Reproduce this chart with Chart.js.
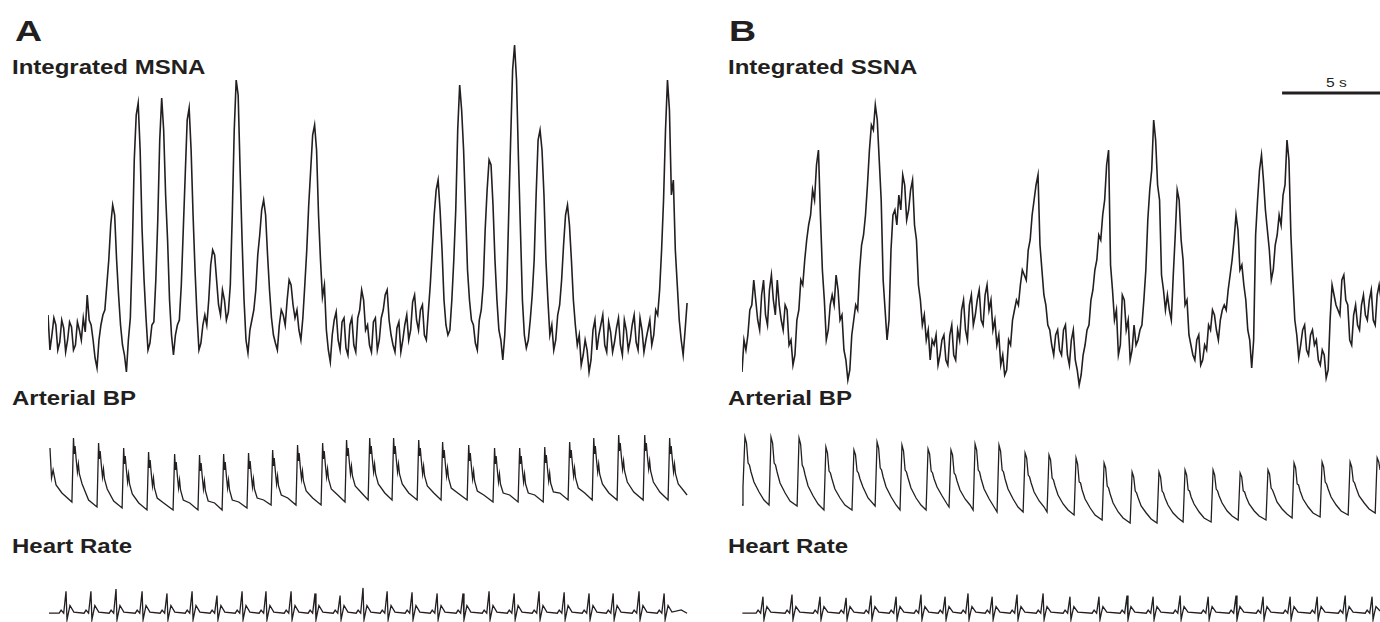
<!DOCTYPE html>
<html>
<head>
<meta charset="utf-8">
<script src="https://cdn.jsdelivr.net/npm/chart.js@4.4.1/dist/chart.umd.min.js"></script>
<style>
  html, body { margin: 0; padding: 0; background: #fff; }
  body { width: 1380px; height: 622px; position: relative; overflow: hidden;
         font-family: "Liberation Sans", Arial, Helvetica, sans-serif; color: #231f20; }
  .lbl { position: absolute; font-weight: bold; font-size: 20px; line-height: 20px; white-space: nowrap;
         transform-origin: left top; transform: scaleX(1.2); }
  .panel { position: absolute; font-weight: bold; font-size: 30px; line-height: 30px;
           transform-origin: left top; transform: scaleX(1.25); }
  .bar { position: absolute; font-size: 12px; line-height: 12px; transform-origin: left top; transform: scaleX(1.3); }
  canvas { position: absolute; }
</style>
</head>
<body>
<div class="panel" style="left:15px; top:16px;">A</div>
<div class="panel" style="left:729px; top:16px;">B</div>
<div class="lbl" style="left:12px; top:57px;">Integrated MSNA</div>
<div class="lbl" style="left:728px; top:57px;">Integrated SSNA</div>
<div class="lbl" style="left:12px; top:388px;">Arterial BP</div>
<div class="lbl" style="left:728px; top:388px;">Arterial BP</div>
<div class="lbl" style="left:12px; top:536px;">Heart Rate</div>
<div class="lbl" style="left:728px; top:536px;">Heart Rate</div>
<div class="bar" style="left:1326px; top:77px;">5 s</div>

<canvas id="msna" width="643" height="345" style="left:48px; top:35px;"></canvas>
<canvas id="ssna" width="643" height="320" style="left:742px; top:80px;"></canvas>
<canvas id="bpA" width="643" height="90" style="left:48px; top:425px;"></canvas>
<canvas id="bpB" width="643" height="105" style="left:742px; top:425px;"></canvas>
<canvas id="ecgA" width="643" height="44" style="left:48px; top:578px;"></canvas>
<canvas id="ecgB" width="643" height="44" style="left:742px; top:578px;"></canvas>

<script>
// sampling interval of the integrated nerve traces (s)
const snaStep = 0.1;

// integrated MSNA, panel A (a.u.)
const msnaA = [
  65,30,45,62,55,30,38,60,52,28,40,58,53,30,35,58,50,40,62,48,
  85,60,55,40,22,12,40,55,65,70,95,120,155,175,165,120,85,55,35,25,
  8,40,62,130,220,265,277,230,150,100,62,30,37,55,58,100,160,240,282,250,
  185,140,80,45,25,45,55,60,95,150,205,260,272,230,165,110,65,30,37,55,
  65,55,80,115,130,125,100,75,65,90,80,60,68,95,165,250,300,285,210,140,
  80,40,27,50,60,70,90,125,145,170,180,165,125,90,62,45,37,30,55,70,
  65,55,80,100,95,75,62,70,50,40,62,95,130,175,210,245,255,230,165,120,
  83,95,50,30,18,45,60,68,40,30,58,62,32,25,55,62,35,28,62,70,
  90,80,50,55,35,28,58,62,30,40,62,70,85,90,60,45,35,28,52,58,
  28,40,55,65,40,50,78,85,60,50,70,75,45,40,68,95,130,165,190,200,
  170,130,80,55,45,50,80,120,170,250,295,270,230,170,110,80,60,55,37,30,
  60,70,95,150,190,220,215,175,120,80,50,40,20,45,90,165,240,310,335,300,
  220,150,80,45,32,40,60,85,120,185,240,250,230,185,120,80,45,55,30,40,
  65,75,100,135,165,175,155,120,80,55,35,45,15,25,40,30,8,20,50,60,
  30,45,55,65,35,28,58,48,28,38,52,62,35,25,60,50,30,40,55,65,
  38,30,62,50,28,40,50,60,35,45,70,65,90,130,180,250,300,270,185,200,
  130,95,60,40,25,50,77
];

// integrated SSNA, panel B (a.u.)
const ssnaB = [
  28,60,50,65,90,95,120,100,80,70,105,120,85,75,110,125,100,85,120,95,
  80,70,95,90,55,60,35,45,80,90,120,115,140,160,175,185,210,200,235,250,
  185,130,100,60,70,95,105,95,125,110,80,85,50,40,20,30,65,80,95,90,
  130,155,165,185,215,250,275,270,295,280,240,200,120,90,60,80,150,185,190,175,
  205,190,225,215,180,190,210,220,175,160,115,100,75,85,60,70,40,60,55,65,
  35,45,60,65,40,35,65,75,45,40,70,60,90,100,70,60,95,105,75,85,
  100,110,80,75,105,115,90,100,70,80,55,65,35,45,25,30,60,55,80,90,
  100,95,115,130,125,120,150,160,185,200,215,225,155,130,105,95,75,70,55,45,
  65,70,50,45,70,75,45,35,60,70,40,30,15,25,45,55,70,75,100,110,
  130,140,165,160,185,200,235,250,135,110,80,90,45,55,105,100,70,80,40,50,
  75,55,60,70,75,100,130,180,210,230,280,260,215,200,125,110,90,105,90,80,
  125,165,210,200,160,140,95,100,65,55,45,40,60,65,35,40,55,50,75,70,
  90,85,70,60,80,90,95,90,110,125,140,160,185,170,130,135,115,100,70,60,
  32,60,165,200,230,245,220,190,170,150,120,130,155,165,185,175,205,215,260,240,
  165,120,80,65,42,55,70,75,50,45,65,70,55,60,40,35,50,45,22,30,
  80,115,105,95,90,85,120,125,100,95,60,55,85,95,75,70,95,105,85,80,
  100,110,80,75,105,115,100
];

// arterial pressure, panel A: [time s, mmHg]
const bpA = [
  [0.10,117],[0.18,87],[0.26,95],[0.41,80],[0.71,72],
  [1.22,63],[1.30,127],[1.34,111],[1.38,119],[1.44,105],[1.50,93],[1.55,101],[1.60,91],[1.74,81],[2.07,65],
  [2.50,58],[2.58,122],[2.62,106],[2.66,114],[2.72,100],[2.78,88],[2.83,96],[2.88,86],[3.02,76],[3.35,64],
  [3.78,57],[3.86,117],[3.90,101],[3.94,109],[4.00,95],[4.06,83],[4.11,91],[4.16,81],[4.30,71],[4.63,62],
  [5.05,55],[5.13,113],[5.17,97],[5.21,105],[5.27,91],[5.33,79],[5.38,87],[5.43,77],[5.57,67],[5.90,62],
  [6.38,55],[6.46,111],[6.50,95],[6.54,103],[6.60,89],[6.66,77],[6.71,85],[6.76,75],[6.90,65],[7.23,62],
  [7.65,55],[7.73,110],[7.77,94],[7.81,102],[7.87,88],[7.93,76],[7.98,84],[8.03,74],[8.17,64],[8.50,62],
  [8.88,55],[8.96,111],[9.00,95],[9.04,103],[9.10,89],[9.16,77],[9.21,85],[9.26,75],[9.40,65],[9.73,63],
  [10.15,57],[10.23,112],[10.27,96],[10.31,104],[10.37,90],[10.43,78],[10.48,86],[10.53,76],[10.67,67],[11.00,65],
  [11.38,60],[11.46,115],[11.50,99],[11.54,107],[11.60,93],[11.66,81],[11.71,89],[11.76,79],[11.90,70],[12.23,67],
  [12.65,60],[12.73,120],[12.77,104],[12.81,112],[12.87,98],[12.93,86],[12.98,94],[13.03,84],[13.17,74],[13.50,67],
  [13.93,60],[14.01,122],[14.05,106],[14.09,114],[14.15,100],[14.21,88],[14.26,96],[14.31,86],[14.45,76],[14.78,70],
  [15.15,63],[15.23,125],[15.27,109],[15.31,117],[15.37,103],[15.43,91],[15.48,99],[15.53,89],[15.67,79],[16.00,72],
  [16.33,65],[16.41,127],[16.45,111],[16.49,119],[16.55,105],[16.61,93],[16.66,101],[16.71,91],[16.85,81],[17.18,72],
  [17.55,65],[17.63,127],[17.67,111],[17.71,119],[17.77,105],[17.83,93],[17.88,101],[17.93,91],[18.07,81],[18.40,72],
  [18.83,65],[18.91,125],[18.95,109],[18.99,117],[19.05,103],[19.11,91],[19.16,99],[19.21,89],[19.35,79],[19.68,72],
  [20.05,65],[20.13,123],[20.17,107],[20.21,115],[20.27,101],[20.33,89],[20.38,97],[20.43,87],[20.57,77],[20.90,72],
  [21.38,65],[21.46,120],[21.50,104],[21.54,112],[21.60,98],[21.66,86],[21.71,94],[21.76,84],[21.90,74],[22.23,70],
  [22.70,63],[22.78,117],[22.82,101],[22.86,109],[22.92,95],[22.98,83],[23.03,91],[23.08,81],[23.22,72],[23.55,70],
  [23.98,63],[24.06,117],[24.10,101],[24.14,109],[24.20,95],[24.26,83],[24.31,91],[24.36,81],[24.50,72],[24.83,70],
  [25.26,63],[25.34,118],[25.38,102],[25.42,110],[25.48,96],[25.54,84],[25.59,92],[25.64,82],[25.78,73],[26.11,72],
  [26.53,65],[26.61,123],[26.65,107],[26.69,115],[26.75,101],[26.81,89],[26.86,97],[26.91,87],[27.05,77],[27.38,72],
  [27.76,65],[27.84,127],[27.88,111],[27.92,119],[27.98,105],[28.04,93],[28.09,101],[28.14,91],[28.28,81],[28.61,72],
  [29.03,65],[29.11,130],[29.15,114],[29.19,122],[29.25,108],[29.31,96],[29.36,104],[29.41,94],[29.55,83],[29.88,73],
  [30.36,65],[30.44,130],[30.48,114],[30.52,122],[30.58,108],[30.64,96],[30.69,104],[30.74,94],[30.88,83],[31.21,73],
  [31.63,65],[31.71,127],[31.75,111],[31.79,119],[31.85,105],[31.91,93],[31.96,101],[32.01,91],[32.15,81],[32.60,70]
];

// arterial pressure, panel B: [time s, mmHg]
const bpB = [
  [0.00,65],[0.05,83],[0.15,133],[0.23,127],[0.31,107],[0.38,105],[0.46,98],[0.61,88],[0.87,78],[1.12,70],
  [1.38,65],[1.48,133],[1.56,127],[1.64,107],[1.71,105],[1.79,98],[1.94,87],[2.20,77],[2.45,69],
  [2.81,64],[2.91,132],[2.99,126],[3.07,105],[3.14,102],[3.22,95],[3.37,84],[3.63,74],[3.88,66],
  [4.18,60],[4.28,123],[4.36,117],[4.44,99],[4.51,97],[4.59,91],[4.74,81],[5.00,72],[5.25,65],
  [5.61,60],[5.71,120],[5.79,115],[5.87,99],[5.94,97],[6.02,91],[6.17,83],[6.43,72],
  [6.79,64],[6.89,128],[6.97,122],[7.05,102],[7.12,100],[7.20,93],[7.35,83],[7.61,73],[7.86,65],
  [8.06,60],[8.16,125],[8.24,119],[8.32,100],[8.39,98],[8.47,92],[8.62,82],[8.88,72],[9.13,65],
  [9.39,60],[9.49,121],[9.57,116],[9.65,99],[9.72,97],[9.80,91],[9.95,83],[10.21,74],[10.46,66],
  [10.56,63],[10.66,120],[10.74,115],[10.82,97],[10.89,95],[10.97,89],[11.12,80],[11.38,71],[11.63,65],
  [11.79,60],[11.89,126],[11.97,120],[12.05,100],[12.12,98],[12.20,91],[12.35,81],[12.61,71],[12.86,63],
  [13.01,58],[13.11,125],[13.19,119],[13.27,100],[13.34,98],[13.42,91],[13.57,81],[13.83,71],[14.08,63],
  [14.34,58],[14.44,117],[14.52,112],[14.60,95],[14.67,93],[14.75,87],[14.90,78],[15.16,69],[15.41,63],
  [15.56,58],[15.66,115],[15.74,110],[15.82,92],[15.89,90],[15.97,84],[16.12,75],[16.38,66],[16.63,60],
  [16.94,55],[17.04,112],[17.12,106],[17.20,88],[17.27,87],[17.35,80],[17.50,71],[17.76,62],[18.01,55],
  [18.37,50],[18.47,107],[18.55,102],[18.63,84],[18.70,82],[18.78,76],[18.93,67],[19.19,58],[19.44,52],
  [19.80,47],[19.90,98],[19.98,93],[20.06,79],[20.13,77],[20.21,72],[20.36,64],[20.62,57],[20.87,51],
  [21.17,47],[21.27,98],[21.35,93],[21.43,79],[21.50,77],[21.58,72],[21.73,65],[21.99,57],[22.24,52],
  [22.50,48],[22.60,100],[22.68,95],[22.76,80],[22.83,79],[22.91,73],[23.06,66],[23.32,58],[23.57,52],
  [23.93,48],[24.03,100],[24.11,95],[24.19,81],[24.26,79],[24.34,74],[24.49,67],[24.75,59],[25.00,54],
  [25.31,50],[25.41,97],[25.49,93],[25.57,79],[25.64,78],[25.72,73],[25.87,66],[26.13,59],[26.38,54],
  [26.73,50],[26.83,100],[26.91,96],[26.99,82],[27.06,80],[27.14,76],[27.29,68],[27.55,61],[27.80,56],
  [28.06,52],[28.16,107],[28.24,102],[28.32,86],[28.39,85],[28.47,79],[28.62,71],[28.88,63],[29.13,57],
  [29.49,53],[29.59,108],[29.67,103],[29.75,88],[29.82,86],[29.90,81],[30.05,73],[30.31,65],[30.56,59],
  [30.92,55],[31.02,108],[31.10,103],[31.18,89],[31.25,87],[31.33,82],[31.48,74],[31.74,67],[31.99,61],
  [32.30,57],[32.40,112],[32.48,108],[32.55,100]
];

// ECG, panel A: [time s, mV]
const ecgA = [
  [0.05,0],
  [0.57,0],[0.67,0.14],[0.80,0],[0.92,1.0],[0.97,-0.3],[1.04,0],[1.12,0.35],[1.32,0.05],
  [1.84,0],[1.94,0.14],[2.07,0],[2.19,1.0],[2.24,-0.3],[2.31,0],[2.39,0.35],[2.59,0.05],
  [3.12,0],[3.22,0.14],[3.35,0],[3.47,1.1],[3.52,-0.3],[3.59,0],[3.67,0.35],[3.87,0.05],
  [4.45,0],[4.55,0.14],[4.68,0],[4.80,1.0],[4.85,-0.3],[4.92,0],[5.00,0.35],[5.20,0.05],
  [5.72,0],[5.82,0.14],[5.95,0],[6.07,0.9],[6.12,-0.3],[6.19,0],[6.27,0.35],[6.47,0.05],
  [7.00,0],[7.10,0.14],[7.23,0],[7.35,1.0],[7.40,-0.3],[7.47,0],[7.55,0.35],[7.75,0.05],
  [8.27,0],[8.37,0.14],[8.50,0],[8.62,0.8],[8.67,-0.3],[8.74,0],[8.82,0.35],[9.02,0.05],
  [9.55,0],[9.65,0.14],[9.78,0],[9.90,1.0],[9.95,-0.3],[10.02,0],[10.10,0.35],[10.30,0.05],
  [10.77,0],[10.87,0.14],[11.00,0],[11.12,1.0],[11.17,-0.3],[11.24,0],[11.32,0.35],[11.52,0.05],
  [12.05,0],[12.15,0.14],[12.28,0],[12.40,1.0],[12.45,-0.3],[12.52,0],[12.60,0.35],[12.80,0.05],
  [13.27,0],[13.37,0.14],[13.50,0],[13.62,0.9],[13.67,-0.3],[13.74,0],[13.82,0.35],[14.02,0.05],
  [14.55,0],[14.65,0.14],[14.78,0],[14.90,0.8],[14.95,-0.3],[15.02,0],[15.10,0.35],[15.30,0.05],
  [15.72,0],[15.82,0.14],[15.95,0],[16.07,1.15],[16.12,-0.3],[16.19,0],[16.27,0.35],[16.47,0.05],
  [16.95,0],[17.05,0.14],[17.18,0],[17.30,1.0],[17.35,-0.3],[17.42,0],[17.50,0.35],[17.70,0.05],
  [18.22,0],[18.32,0.14],[18.45,0],[18.57,0.95],[18.62,-0.3],[18.69,0],[18.77,0.35],[18.97,0.05],
  [19.50,0],[19.60,0.14],[19.73,0],[19.85,0.9],[19.90,-0.3],[19.97,0],[20.05,0.35],[20.25,0.05],
  [20.82,0],[20.92,0.14],[21.05,0],[21.17,0.9],[21.22,-0.3],[21.29,0],[21.37,0.35],[21.57,0.05],
  [22.15,0],[22.25,0.14],[22.38,0],[22.50,1.0],[22.55,-0.3],[22.62,0],[22.70,0.35],[22.90,0.05],
  [23.43,0],[23.53,0.14],[23.66,0],[23.78,0.9],[23.83,-0.3],[23.90,0],[23.98,0.35],[24.18,0.05],
  [24.70,0],[24.80,0.14],[24.93,0],[25.05,1.0],[25.10,-0.3],[25.17,0],[25.25,0.35],[25.45,0.05],
  [25.98,0],[26.08,0.14],[26.21,0],[26.33,0.95],[26.38,-0.3],[26.45,0],[26.53,0.35],[26.73,0.05],
  [27.25,0],[27.35,0.14],[27.48,0],[27.60,0.9],[27.65,-0.3],[27.72,0],[27.80,0.35],[28.00,0.05],
  [28.48,0],[28.58,0.14],[28.71,0],[28.83,0.9],[28.88,-0.3],[28.95,0],[29.03,0.35],[29.23,0.05],
  [29.80,0],[29.90,0.14],[30.03,0],[30.15,1.0],[30.20,-0.3],[30.27,0],[30.35,0.35],[30.55,0.05],
  [31.08,0],[31.18,0.14],[31.31,0],[31.43,0.9],[31.48,-0.3],[31.55,0],[31.63,0.35],[31.83,0.05],
  [32.30,0.15],[32.60,0]
];

// ECG, panel B: [time s, mV]
const ecgB = [
  [0.02,0],
  [0.72,0],[0.82,0.14],[0.95,0],[1.07,0.75],[1.12,-0.3],[1.19,0],[1.27,0.3],[1.47,0.05],
  [2.20,0],[2.30,0.14],[2.43,0],[2.55,0.85],[2.60,-0.3],[2.67,0],[2.75,0.3],[2.95,0.05],
  [3.63,0],[3.73,0.14],[3.86,0],[3.98,0.75],[4.03,-0.3],[4.10,0],[4.18,0.3],[4.38,0.05],
  [4.96,0],[5.06,0.14],[5.19,0],[5.31,0.7],[5.36,-0.3],[5.43,0],[5.51,0.3],[5.71,0.05],
  [6.23,0],[6.33,0.14],[6.46,0],[6.58,0.8],[6.63,-0.3],[6.70,0],[6.78,0.3],[6.98,0.05],
  [7.51,0],[7.61,0.14],[7.74,0],[7.86,0.75],[7.91,-0.3],[7.98,0],[8.06,0.3],[8.26,0.05],
  [8.78,0],[8.88,0.14],[9.01,0],[9.13,0.85],[9.18,-0.3],[9.25,0],[9.33,0.3],[9.53,0.05],
  [10.01,0],[10.11,0.14],[10.24,0],[10.36,0.75],[10.41,-0.3],[10.48,0],[10.56,0.3],[10.76,0.05],
  [11.18,0],[11.28,0.14],[11.41,0],[11.53,0.9],[11.58,-0.3],[11.65,0],[11.73,0.3],[11.93,0.05],
  [12.41,0],[12.51,0.14],[12.64,0],[12.76,0.75],[12.81,-0.3],[12.88,0],[12.96,0.3],[13.16,0.05],
  [13.68,0],[13.78,0.14],[13.91,0],[14.03,0.85],[14.08,-0.3],[14.15,0],[14.23,0.3],[14.43,0.05],
  [15.01,0],[15.11,0.14],[15.24,0],[15.36,0.9],[15.41,-0.3],[15.48,0],[15.56,0.3],[15.76,0.05],
  [16.38,0],[16.48,0.14],[16.61,0],[16.73,0.75],[16.78,-0.3],[16.85,0],[16.93,0.3],[17.13,0.05],
  [17.86,0],[17.96,0.14],[18.09,0],[18.21,0.75],[18.26,-0.3],[18.33,0],[18.41,0.3],[18.61,0.05],
  [19.29,0],[19.39,0.14],[19.52,0],[19.64,0.8],[19.69,-0.3],[19.76,0],[19.84,0.3],[20.04,0.05],
  [20.62,0],[20.72,0.14],[20.85,0],[20.97,0.75],[21.02,-0.3],[21.09,0],[21.17,0.3],[21.37,0.05],
  [22.00,0],[22.10,0.14],[22.23,0],[22.35,0.8],[22.40,-0.3],[22.47,0],[22.55,0.3],[22.75,0.05],
  [23.43,0],[23.53,0.14],[23.66,0],[23.78,0.75],[23.83,-0.3],[23.90,0],[23.98,0.3],[24.18,0.05],
  [24.85,0],[24.95,0.14],[25.08,0],[25.20,0.8],[25.25,-0.3],[25.32,0],[25.40,0.3],[25.60,0.05],
  [26.23,0],[26.33,0.14],[26.46,0],[26.58,0.75],[26.63,-0.3],[26.70,0],[26.78,0.3],[26.98,0.05],
  [27.61,0],[27.71,0.14],[27.84,0],[27.96,0.75],[28.01,-0.3],[28.08,0],[28.16,0.3],[28.36,0.05],
  [28.99,0],[29.09,0.14],[29.22,0],[29.34,0.75],[29.39,-0.3],[29.46,0],[29.54,0.3],[29.74,0.05],
  [30.42,0],[30.52,0.14],[30.65,0],[30.77,0.8],[30.82,-0.3],[30.89,0],[30.97,0.3],[31.17,0.05],
  [31.79,0],[31.89,0.14],[32.02,0],[32.14,0.75],[32.19,-0.3],[32.26,0],[32.34,0.3],[32.55,0.1]
];

// 5 s calibration bar drawn in the SSNA panel
const scaleBarStart = 27.55;
const scaleBarLength = 5;
const scaleBarLevel = 307;

const ink = "#231f20";

function traceChart(id, points, yMin, yMax, width, extraSets) {
  const sets = [{
    data: points,
    borderColor: ink,
    borderWidth: width,
    pointRadius: 0,
    tension: 0,
    fill: false
  }].concat(extraSets || []);
  new Chart(document.getElementById(id), {
    type: "line",
    data: { datasets: sets },
    options: {
      responsive: false,
      animation: false,
      devicePixelRatio: 1,
      layout: { padding: 0 },
      plugins: { legend: { display: false }, tooltip: { enabled: false } },
      scales: {
        x: { type: "linear", min: 0, max: 32.8, display: false },
        y: { min: yMin, max: yMax, display: false }
      }
    }
  });
}

const sampled = arr => arr.map((v, i) => ({ x: i * snaStep, y: v }));
const paired = arr => arr.map(p => ({ x: p[0], y: p[1] }));

traceChart("msna", sampled(msnaA), 0, 345, 1.6);
traceChart("ssna", sampled(ssnaB), 0, 320, 1.6, [{
  data: [{ x: scaleBarStart, y: scaleBarLevel }, { x: scaleBarStart + scaleBarLength, y: scaleBarLevel }],
  borderColor: ink,
  borderWidth: 3,
  pointRadius: 0
}]);
traceChart("bpA", paired(bpA), 50, 140, 1.3);
traceChart("bpB", paired(bpB), 40, 145, 1.3);
traceChart("ecgA", paired(ecgA), -0.4, 1.6, 1.3);
traceChart("ecgB", paired(ecgB), -0.4, 1.6, 1.3);
</script>
</body>
</html>
